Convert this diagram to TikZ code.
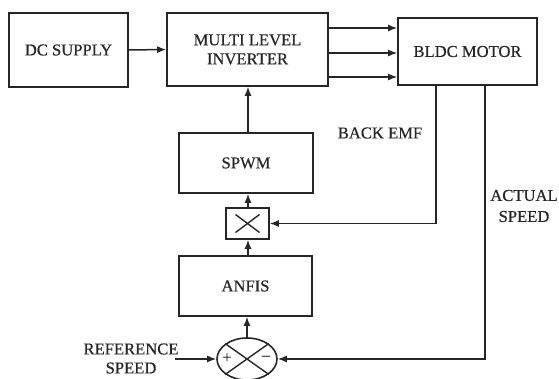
\documentclass[tikz,border=0pt]{standalone}
\usepackage{fontspec}
\setmainfont[FakeBold=0.5]{Liberation Serif}
\usetikzlibrary{arrows.meta,shapes.geometric}
\begin{document}
\begin{tikzpicture}[x=1pt,y=-1pt,
  blk/.style={draw=black!85,line width=1.6pt,inner sep=0pt,font=\fontsize{16.6}{19}\selectfont,align=center,text=black!85},
  lbl/.style={inner sep=0pt,font=\fontsize{16.6}{19}\selectfont,align=center,text=black!85},
  arr/.style={draw=black!85,line width=1.5pt,-{Latex[length=9pt,width=7pt]}},
  ln/.style={draw=black!85,line width=1.4pt}]
\useasboundingbox (0,0) rectangle (559,379);
\clip (0,0) rectangle (559,379);
\node[blk,minimum width=119pt,minimum height=74pt] (dc) at (68.5,50) {DC SUPPLY};
\node[blk,minimum width=161pt,minimum height=73pt] (mli) at (247.5,49.5) {MULTI LEVEL\\INVERTER};
\node[blk,minimum width=139pt,minimum height=67pt] (bldc) at (467.5,51.5) {BLDC MOTOR};
\node[blk,minimum width=134pt,minimum height=60pt] (spwm) at (246,163) {SPWM};
\node[blk,minimum width=43pt,minimum height=31pt] (mult) at (247.5,223.5) {};
\node[blk,minimum width=133pt,minimum height=60pt] (anfis) at (245.5,286) {ANFIS};
\node[blk,ellipse,minimum width=60pt,minimum height=42pt] (sum) at (247,359) {};
% multiplier cross
\draw[ln] ([xshift=-12pt,yshift=9pt]mult.center) -- ([xshift=12pt,yshift=-9pt]mult.center);
\draw[ln] ([xshift=-12pt,yshift=-9pt]mult.center) -- ([xshift=12pt,yshift=9pt]mult.center);
% summing cross
\draw[ln] (sum.north west) -- (sum.south east);
\draw[ln] (sum.south west) -- (sum.north east);
\node[lbl,font=\fontsize{16}{16}\selectfont] (plus) at (227,358) {+};
\node[lbl,font=\fontsize{16}{16}\selectfont] (minus) at (266,358) {--};
% connectors
\draw[arr] (dc.east) -- (mli.west);
\coordinate (a1) at (328,28);
\coordinate (a2) at (328,53);
\coordinate (a3) at (328,77);
\draw[arr] (a1) -- (bldc.west |- a1);
\draw[arr] (a2) -- (bldc.west |- a2);
\draw[arr] (a3) -- (bldc.west |- a3);
\coordinate (sx) at (248,0);
\draw[arr] (spwm.north -| sx) -- (mli.south -| sx);
\draw[arr] (mult.north -| sx) -- (spwm.south -| sx);
\draw[arr] (anfis.north -| sx) -- (mult.south -| sx);
\draw[arr] (sum.north) -- (anfis.south -| sum.north);
\coordinate (bx) at (436,0);
\draw[arr] (bldc.south -| bx) |- (mult.east);
\coordinate (ax) at (485,0);
\draw[arr] (bldc.south -| ax) |- (sum.east);
\coordinate (ref) at (175,359);
\draw[arr] (ref) -- (sum.west);
% labels
\node[lbl] (bemf) at (380,133) {BACK EMF};
\node[lbl,font=\fontsize{16.6}{21}\selectfont] (act) at (524,206) {ACTUAL\\SPEED};
\node[lbl] (refl) at (131,358.5) {REFERENCE\\SPEED};
\end{tikzpicture}
\end{document}
